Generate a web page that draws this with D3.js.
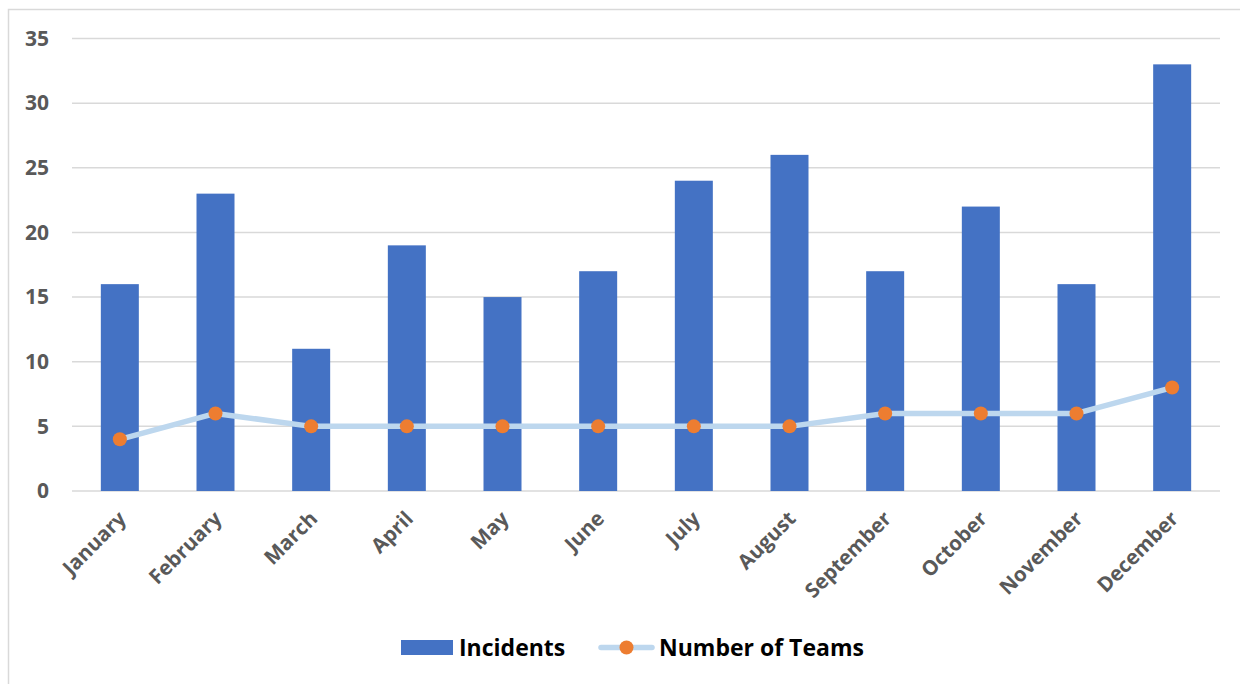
<!DOCTYPE html>
<html><head><meta charset="utf-8">
<script src="https://cdn.jsdelivr.net/npm/d3@7"></script>
<style>body{margin:0;background:#fff}svg{display:block}</style>
</head><body>
<svg id="c" width="1240" height="684"></svg>
<script>
const months = ["January","February","March","April","May","June","July","August","September","October","November","December"];
const incidents = [16,23,11,19,15,17,24,26,17,22,16,33];
const teams = [4,6,5,5,5,5,5,5,6,6,6,8];
const yTicks = [0,5,10,15,20,25,30,35];

(function(){
const svg = d3.select("#c");
const W=1240,H=684;
const mLeft=72,mRight=1220,mTop=38.5,mBottom=491;
const font="'Open Sans', sans-serif";

svg.append("rect").attr("x",8.5).attr("y",9.5).attr("width",W).attr("height",H)
  .attr("fill","#fff").attr("stroke","#d9d9d9").attr("stroke-width",1.5);

const xc = d3.scalePoint().domain(months).range([mLeft,mRight]).padding(0.5);
const y = d3.scaleLinear().domain([0,35]).range([mBottom,mTop]);

const g = svg.append("g");
g.selectAll(".grid").data(yTicks).join("line")
  .attr("x1",mLeft).attr("x2",mRight).attr("y1",d=>y(d)).attr("y2",d=>y(d))
  .attr("stroke","#d9d9d9").attr("stroke-width",1.5);

const yAxis = svg.append("g").attr("transform",`translate(${mLeft},0)`)
  .call(d3.axisLeft(y).tickValues(yTicks).tickSize(0).tickPadding(23));
yAxis.select(".domain").remove();
yAxis.selectAll("text").attr("font-family",font).attr("font-weight","bold").attr("font-size",21).attr("fill","#595959");

const bw = 38;
g.selectAll(".bar").data(months).join("rect")
  .attr("x",d=>xc(d)-bw/2).attr("width",bw)
  .attr("y",(d,i)=>y(incidents[i])).attr("height",(d,i)=>y(0)-y(incidents[i]))
  .attr("fill","#4472C4");

const xAxis = svg.append("g").attr("transform",`translate(0,${mBottom})`)
  .call(d3.axisBottom(xc).tickSize(0).tickPadding(0));
xAxis.select(".domain").remove();
xAxis.selectAll("text").attr("font-family",font).attr("font-weight","bold").attr("font-size",20.5).attr("fill","#595959")
  .attr("text-anchor","end").attr("dy",0)
  .attr("transform","translate(7,29) rotate(-45)");

const line = d3.line().x((d,i)=>xc(months[i])).y(d=>y(d));
g.append("path").datum(teams).attr("d",line).attr("fill","none")
  .attr("stroke","#BDD7EE").attr("stroke-width",5.5).attr("stroke-linejoin","round").attr("stroke-linecap","round");
g.selectAll(".dot").data(teams).join("circle")
  .attr("cx",(d,i)=>xc(months[i])).attr("cy",d=>y(d)).attr("r",7).attr("fill","#ED7D31");

const leg = svg.append("g");
leg.append("rect").attr("x",401).attr("y",640).attr("width",52).attr("height",15).attr("fill","#4472C4");
leg.append("text").attr("x",459).attr("y",655.5).text("Incidents")
  .attr("font-family",font).attr("font-weight","bold").attr("font-size",23).attr("fill","#000");
leg.append("line").attr("x1",601).attr("x2",652).attr("y1",647.5).attr("y2",647.5)
  .attr("stroke","#BDD7EE").attr("stroke-width",5.5).attr("stroke-linecap","round");
leg.append("circle").attr("cx",626.5).attr("cy",647.5).attr("r",7).attr("fill","#ED7D31");
leg.append("text").attr("x",659).attr("y",655.5).text("Number of Teams")
  .attr("font-family",font).attr("font-weight","bold").attr("font-size",23).attr("fill","#000");
})();
</script>
</body></html>
